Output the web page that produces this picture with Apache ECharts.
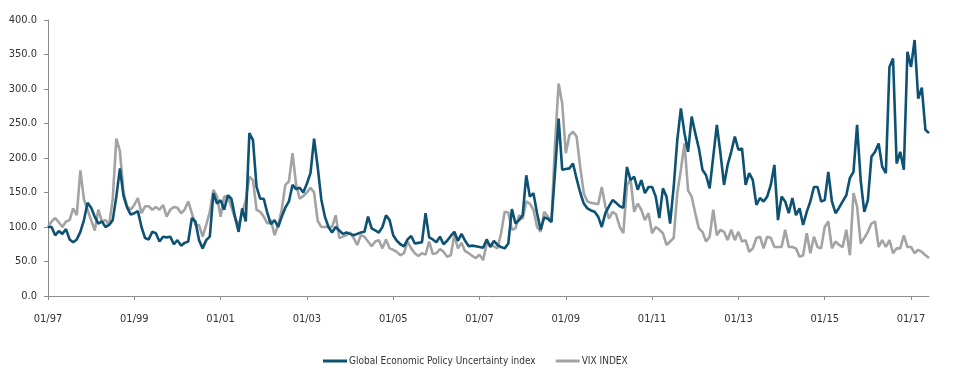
<!DOCTYPE html>
<html>
<head>
<meta charset="utf-8">
<script src="https://cdn.jsdelivr.net/npm/echarts@6/dist/echarts.min.js"></script>
<style>
html,body{margin:0;padding:0;background:#fff;}
#chart{width:963px;height:375px;}
</style>
</head>
<body>
<div id="chart"></div>
<script>
// Monthly observations, 01/1997 .. 06/2017 (index, Jan 1997 = 100)
const startYear = 1997;
const monthCount = 246;

const epuValues = [
  100,100,88,94,90,97,82,78,82,93,110,135,128,115,105,108,100,103,110,144,185,145,128,118,120,123,100,84,82,
  93,91,79,86,85,86,75,81,73,77,79,113,108,81,69,81,86,149,134,139,125,146,141,115,93,127,108,236,226,158,141,141,120,
  104,110,100,115,128,137,161,155,157,150,163,178,
  228,187,140,115,100,92,100,95,90,92,90,88,90,92,
  93,115,98,95,92,100,117,110,88,80,75,72,82,87,76,77,78,120,
  85,82,78,86,75,80,87,93,80,90,80,72,73,72,71,70,82,71,80,74,71,69,76,
  126,105,110,117,175,144,149,120,96,114,112,107,180,
  257,183,184,185,192,170,150,134,127,124,122,115,100,120,130,139,135,130,128,187,
  168,173,154,168,149,158,158,144,113,156,144,105,158,226,272,236,209,260,236,214,183,175,156,202,248,207,161,190,209,231,
  212,214,161,178,168,132,142,137,144,161,190,110,144,137,120,142,117,127,103,122,137,158,158,137,139,180,137,120,128,137,
  146,171,180,248,168,122,139,202,209,221,187,178,332,344,192,209,183,354,332,371,286,302,241,236
];

const vixValues = [
  100,108,113,107,100,108,110,127,117,182,140,125,110,95,125,108,110,103,140,228,210,150,130,125,132,142,120,130,130,
  125,129,125,132,115,125,129,128,120,125,137,120,103,103,86,103,122,154,144,115,144,144,129,113,103,120,139,173,168,125,122,115,
  105,110,88,103,125,161,166,207,161,141,145,150,157,150,109,100,100,100,100,117,
  84,86,88,92,84,74,88,86,79,72,79,81,69,82,69,67,64,59,62,79,69,62,58,62,60,79,61,62,68,64,57,59,88,69,77,65,62,58,55,60,
  52,76,74,72,69,91,122,121,96,98,117,112,137,134,125,100,93,122,115,108,221,308,279,207,233,238,231,187,149,137,135,134,133,158,130,
  112,122,118,100,91,160,
  170,122,134,125,110,120,91,100,96,91,74,79,84,149,183,221,153,144,120,98,93,79,86,125,88,96,93,81,96,81,
  93,79,81,64,69,84,86,69,86,84,71,71,71,96,71,71,69,57,59,91,62,86,71,69,100,108,69,79,74,71,
  96,59,149,130,76,84,93,105,108,71,81,71,81,62,69,69,88,71,71,62,67,64,59,55
];

const seriesNames = ['Global Economic Policy Uncertainty index', 'VIX INDEX'];

const categories = [];
for (let i = 0; i < monthCount; i++) {
  const y = startYear + Math.floor(i / 12);
  const m = (i % 12) + 1;
  categories.push(String(m).padStart(2, '0') + '/' + String(y % 100).padStart(2, '0'));
}

// pick a narrow face if one is installed, otherwise shrink the regular one
function hasFont(name) {
  const c = document.createElement('canvas').getContext('2d');
  const probe = 'Global Economic Policy 0123456789';
  c.font = '40px monospace';
  const base = c.measureText(probe).width;
  c.font = '40px "' + name + '", monospace';
  return Math.abs(c.measureText(probe).width - base) > 0.5;
}
let font, axisSize, legendSize;
if (hasFont('Liberation Sans Narrow')) {
  font = '"Liberation Sans Narrow"'; axisSize = 13; legendSize = 12;
} else if (hasFont('DejaVu Sans Condensed')) {
  font = '"DejaVu Sans Condensed"'; axisSize = 11; legendSize = 10;
} else {
  font = '"Liberation Sans", Arial, sans-serif'; axisSize = 11.5; legendSize = 10.5;
}

const chart = echarts.init(document.getElementById('chart'), null, {renderer: 'canvas'});
chart.setOption({
  animation: false,
  backgroundColor: '#ffffff',
  grid: {left: 48, right: 34, top: 20, bottom: 79, containLabel: false},
  legend: {
    data: seriesNames,
    top: 351,
    left: 318,
    icon: 'rect',
    itemWidth: 24,
    itemHeight: 3,
    itemGap: 20,
    textStyle: {fontFamily: font, fontSize: legendSize, color: '#333333', padding: [0, 0, 0, -3]}
  },
  xAxis: {
    type: 'category',
    data: categories,
    boundaryGap: false,
    axisLine: {lineStyle: {color: '#8c8c8c', width: 1}},
    axisTick: {show: true, interval: 23, length: 4, lineStyle: {color: '#8c8c8c'}},
    axisLabel: {interval: 23, margin: 18, fontFamily: font, fontSize: axisSize, color: '#333333'},
    splitLine: {show: false}
  },
  yAxis: {
    type: 'value',
    min: 0,
    max: 400,
    interval: 50,
    axisLine: {show: true, lineStyle: {color: '#8c8c8c', width: 1}},
    axisTick: {show: true, length: 4, lineStyle: {color: '#8c8c8c'}},
    axisLabel: {margin: 11, fontFamily: font, fontSize: axisSize, color: '#333333',
      formatter: v => v.toFixed(1)},
    splitLine: {show: false}
  },
  series: [
    {
      name: seriesNames[0], type: 'line', data: epuValues, showSymbol: false, symbol: 'none',
      lineStyle: {color: '#0d5173', width: 2.6}, itemStyle: {color: '#0d5173'}, z: 3
    },
    {
      name: seriesNames[1], type: 'line', data: vixValues, showSymbol: false, symbol: 'none',
      lineStyle: {color: '#a3a3a3', width: 2.6}, itemStyle: {color: '#a3a3a3'}, z: 2
    }
  ]
});
</script>
</body>
</html>
